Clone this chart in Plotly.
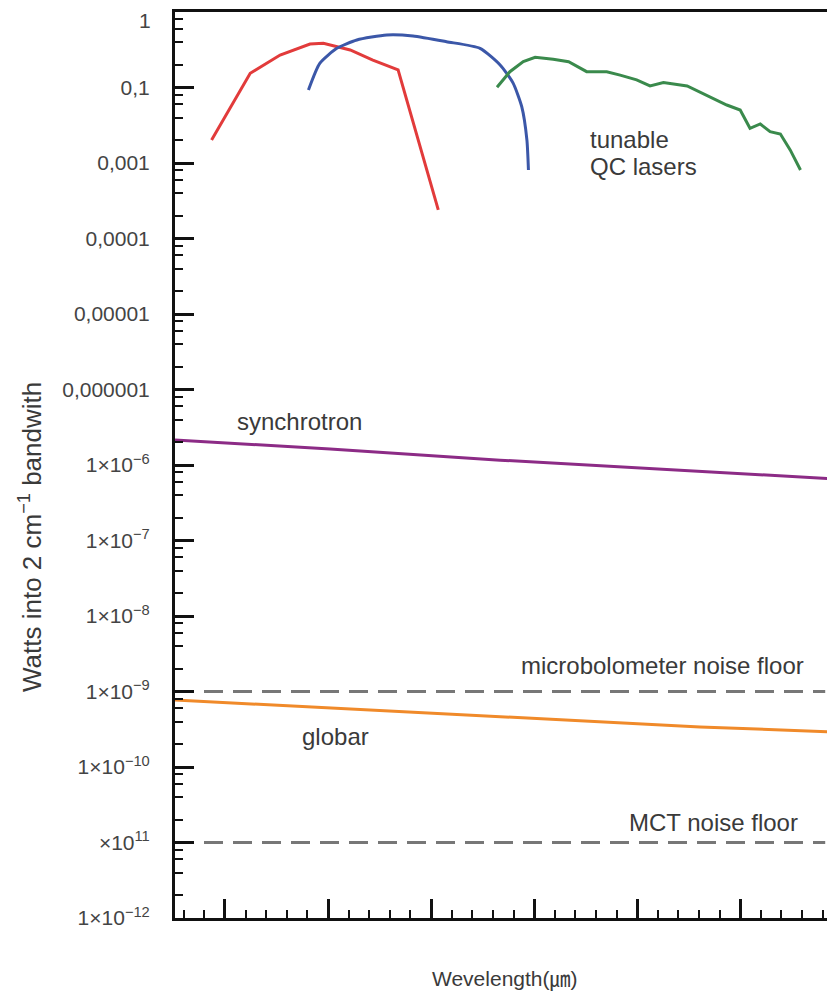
import plotly.graph_objects as go

# ---- data (x: wavelength, arbitrary µm-like units; y: watts) ----
red_x = [1.74, 2.49, 3.07, 3.65, 3.91, 4.43, 4.87, 5.36, 6.14]
red_y = [0.0202, 0.154, 0.269, 0.377, 0.385, 0.314, 0.231, 0.171, 0.0024]

blue_x = [3.62, 3.84, 4.17, 4.56, 5.14, 5.65, 6.30, 6.95, 7.34, 7.59, 7.76, 7.86, 7.89]
blue_y = [0.0927, 0.209, 0.330, 0.426, 0.496, 0.481, 0.404, 0.330, 0.199, 0.115, 0.0557, 0.0202, 0.00807]

green_x = [7.28, 7.53, 7.79, 8.02, 8.37, 8.67, 9.02, 9.41, 9.67, 9.99, 10.25, 10.51, 10.97,
           11.35, 11.74, 12.00, 12.19, 12.39, 12.58, 12.78, 12.97, 13.17]
green_y = [0.1007, 0.162, 0.220, 0.251, 0.236, 0.220, 0.162, 0.162, 0.146, 0.126, 0.105, 0.116, 0.105,
           0.0796, 0.0586, 0.0503, 0.0288, 0.0329, 0.026, 0.0242, 0.0149, 0.00807]

synch_x = [1.03, 4.04, 7.34, 10.64, 13.84]
synch_y = [2.14e-6, 1.63e-6, 1.16e-6, 8.59e-7, 6.53e-7]

globar_x = [1.03, 4.04, 7.34, 11.22, 13.84]
globar_y = [7.71e-10, 6.04e-10, 4.59e-10, 3.39e-10, 2.91e-10]

noise_x = [1.03, 13.65]
micro_y = [1e-9, 1e-9]
mct_y = [1e-11, 1e-11]

ytick_vals = [1e0, 1e-1, 1e-2, 1e-3, 1e-4, 1e-5, 1e-6, 1e-7, 1e-8, 1e-9, 1e-10, 1e-11, 1e-12]
ytick_text = ["", "0,1", "0,001", "0,0001", "0,00001", "0,000001",
              "1×10<sup>−6</sup>", "1×10<sup>−7</sup>", "1×10<sup>−8</sup>", "1×10<sup>−9</sup>",
              "1×10<sup>−10</sup>", "×10<sup>11</sup>", "1×10<sup>−12</sup>"]
top_label = "1"
yminor_vals = [m * 10.0 ** e for e in range(-12, 0) for m in (2, 4, 6, 8)]

FONT = "Liberation Sans, Arial, Noto Sans CJK KR, sans-serif"
TXT = "#3a3a3a"

fig = go.Figure()
fig.add_trace(go.Scatter(x=noise_x, y=micro_y, mode="lines",
                         line=dict(color="#777777", width=3, dash="19px,10px")))
fig.add_trace(go.Scatter(x=noise_x, y=mct_y, mode="lines",
                         line=dict(color="#777777", width=3, dash="19px,10px")))
fig.add_trace(go.Scatter(x=synch_x, y=synch_y, mode="lines", line=dict(color="#8c2b86", width=3)))
fig.add_trace(go.Scatter(x=globar_x, y=globar_y, mode="lines", line=dict(color="#f08a2a", width=3)))
fig.add_trace(go.Scatter(x=red_x, y=red_y, mode="lines", line=dict(color="#e23b3b", width=3)))
fig.add_trace(go.Scatter(x=blue_x, y=blue_y, mode="lines",
                         line=dict(color="#3b57a8", width=3, shape="spline", smoothing=0.6)))
fig.add_trace(go.Scatter(x=green_x, y=green_y, mode="lines", line=dict(color="#3a8a4c", width=3)))

ann = [
    dict(x=2.19, y=-5.43, text="synchrotron", xanchor="left"),
    dict(x=3.46, y=-9.60, text="globar", xanchor="left"),
    dict(x=13.28, y=-8.65, text="microbolometer noise floor", xanchor="right"),
    dict(x=13.17, y=-10.74, text="MCT noise floor", xanchor="right"),
    dict(x=9.05, y=-1.695, text="tunable", xanchor="left"),
    dict(x=9.05, y=-2.04, text="QC lasers", xanchor="left"),
]
annotations = []
for a in ann:
    annotations.append(dict(x=a["x"], y=a["y"], xref="x", yref="y", text=a["text"],
                            xanchor=a["xanchor"], yanchor="middle",
                            showarrow=False, font=dict(family=FONT, size=24, color=TXT)))
annotations.append(dict(x=0, y=1, xref="paper", yref="paper", text=top_label,
                        xanchor="right", yanchor="middle", xshift=-22, yshift=-8,
                        showarrow=False, font=dict(family=FONT, size=21, color="#444444")))
annotations.append(dict(x=-0.2197, y=0.4205, xref="paper", yref="paper", textangle=-90,
                        xanchor="center", yanchor="middle",
                        text="Watts into 2 cm<sup>−1</sup> bandwith", showarrow=False,
                        font=dict(family=FONT, size=26, color=TXT)))
annotations.append(dict(x=0.5, y=-0.0684, xref="paper", yref="paper", yanchor="middle",
                        text="Wevelength(㎛)", showarrow=False,
                        font=dict(family=FONT, size=21, color=TXT)))

fig.update_layout(
    width=827, height=983,
    margin=dict(l=167, r=0, t=4, b=73),
    paper_bgcolor="white", plot_bgcolor="white",
    showlegend=False,
    annotations=annotations,
    xaxis=dict(range=[1.03, 13.84], showgrid=False, zeroline=False,
               showline=True, linecolor="#111111", linewidth=3, mirror=True,
               ticks="inside", ticklen=19, tickwidth=2.5, tickcolor="#111111",
               tick0=0, dtick=2, showticklabels=False,
               minor=dict(ticks="inside", ticklen=8, tickwidth=2, tickcolor="#111111",
                          dtick=0.4, tick0=0, showgrid=False)),
    yaxis=dict(type="log", range=[-12, 0], showgrid=False, zeroline=False,
               showline=True, linecolor="#111111", linewidth=3, mirror=False,
               ticks="inside", ticklen=19, tickwidth=2.5, tickcolor="#111111",
               tickmode="array", tickvals=ytick_vals, ticktext=ytick_text,
               ticklabelstandoff=18,
               tickfont=dict(family=FONT, size=21, color="#444444"),
               minor=dict(ticks="inside", ticklen=8, tickwidth=2, tickcolor="#111111",
                          tickvals=yminor_vals, showgrid=False)),
)

fig.write_html("out.html")
